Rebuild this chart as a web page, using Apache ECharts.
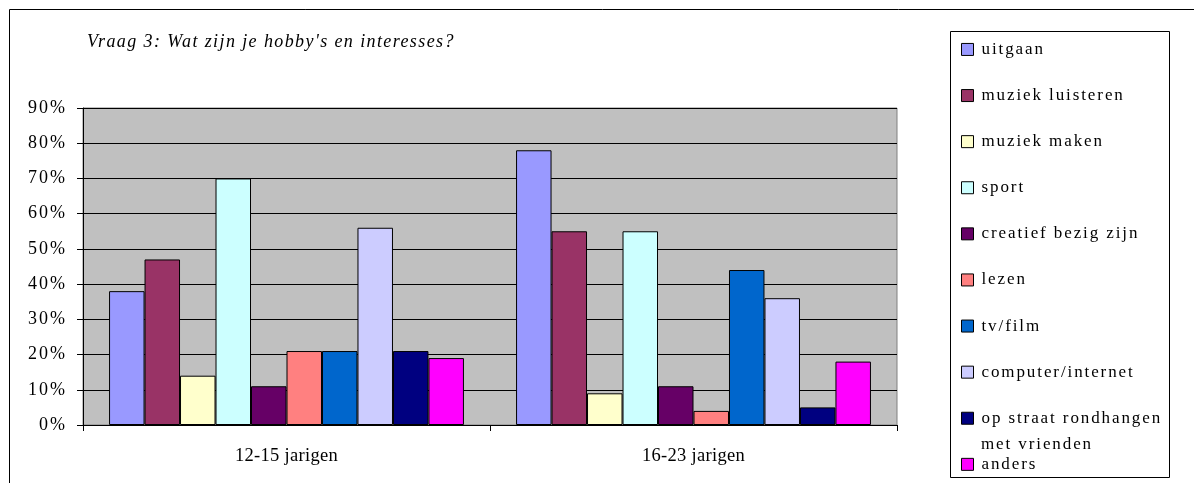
<!DOCTYPE html>
<html>
<head>
<meta charset="utf-8">
<script src="https://cdn.jsdelivr.net/npm/echarts@6/dist/echarts.min.js"></script>
<style>
html,body{margin:0;padding:0;background:#fff;}
#chart{width:1194px;height:483px;}
</style>
</head>
<body>
<div id="chart"></div>
<script>
const titleText = "Vraag 3: Wat zijn je hobby's en interesses?";
const categories = ['12-15 jarigen', '16-23 jarigen'];
const seriesNames = ['uitgaan', 'muziek luisteren', 'muziek maken', 'sport', 'creatief bezig zijn', 'lezen', 'tv/film', 'computer/internet', 'op straat rondhangen met vrienden', 'anders'];
const uitgaan = [38, 78];
const muziekLuisteren = [47, 55];
const muziekMaken = [14, 9];
const sport = [70, 55];
const creatief = [11, 11];
const lezen = [21, 4];
const tvFilm = [21, 44];
const computerInternet = [56, 36];
const opStraat = [21, 5];
const anders = [19, 18];
const yTicks = [0, 10, 20, 30, 40, 50, 60, 70, 80, 90];
const seriesValues = [uitgaan, muziekLuisteren, muziekMaken, sport, creatief, lezen, tvFilm, computerInternet, opStraat, anders];
const colors = ['#9999FF', '#993366', '#FFFFCC', '#CCFFFF', '#660066', '#FF8080', '#0066CC', '#CCCCFF', '#000080', '#FF00FF'];

// letter spacing (the reference text is spaced out) keyed on font size / style
(function () {
  const proto = CanvasRenderingContext2D.prototype;
  if (!('letterSpacing' in proto)) return;
  function spacingFor(font) {
    const m = /([\d.]+)px/.exec(font || '');
    const size = m ? parseFloat(m[1]) : 12;
    if (/italic/.test(font)) return '1.4px';
    if (Math.abs(size - 17) < 0.01) return '1.9px';
    if (Math.abs(size - 18) < 0.01) return '2px';
    if (Math.abs(size - 18.5) < 0.01) return '0.3px';
    return '0px';
  }
  const origFill = proto.fillText, origMeasure = proto.measureText, origStroke = proto.strokeText;
  proto.fillText = function () { this.letterSpacing = spacingFor(this.font); return origFill.apply(this, arguments); };
  proto.strokeText = function () { this.letterSpacing = spacingFor(this.font); return origStroke.apply(this, arguments); };
  proto.measureText = function () { this.letterSpacing = spacingFor(this.font); return origMeasure.apply(this, arguments); };
})();

const serif = "'Liberation Serif', serif";
const chart = echarts.init(document.getElementById('chart'), null, {renderer: 'canvas'});
chart.setOption({
  animation: false,
  color: colors,
  textStyle: {fontFamily: serif, color: '#000'},
  title: {
    text: titleText, left: 87, top: 33, padding: 0,
    textStyle: {fontFamily: serif, fontStyle: 'italic', fontWeight: 'normal', fontSize: 18, lineHeight: 18, color: '#000'}
  },
  graphic: [
    {type: 'rect', shape: {x: 9.5, y: 9.5, width: 1200, height: 500}, style: {fill: 'none', stroke: '#000', lineWidth: 1}, z: -10, silent: true},
    {type: 'rect', shape: {x: 950.5, y: 31.5, width: 219, height: 446}, style: {fill: '#fff', stroke: '#000', lineWidth: 1}, z: -5, silent: true},
    {type: 'text', left: 981, top: 435, style: {text: 'met vrienden', fontFamily: serif, fontSize: 17, fill: '#000'}, silent: true}
  ],
  legend: {
    orient: 'vertical', left: 961, top: 40, height: 445, padding: 0,
    itemWidth: 12, itemHeight: 12, itemGap: 27.2, icon: 'rect',
    itemStyle: {borderColor: '#000', borderWidth: 1},
    textStyle: {fontFamily: serif, fontSize: 17, color: '#000', lineHeight: 18, padding: [0, 0, 0, 3]},
    formatter: function (n) { return n === 'op straat rondhangen met vrienden' ? 'op straat rondhangen' : n; },
    data: seriesNames
  },
  grid: {
    left: 83, top: 108, right: 297, bottom: 58, show: true,
    backgroundColor: '#C0C0C0', borderColor: '#808080', borderWidth: 1, containLabel: false
  },
  xAxis: {
    type: 'category', data: categories,
    axisLine: {show: true, lineStyle: {color: '#000', width: 1}},
    axisTick: {show: true, alignWithLabel: false, length: 6, lineStyle: {color: '#000'}},
    axisLabel: {fontFamily: serif, fontSize: 18.5, color: '#000', margin: 21},
    splitLine: {show: false}
  },
  yAxis: {
    type: 'value', min: 0, max: 90, interval: 10,
    axisLine: {show: true, lineStyle: {color: '#000', width: 1}},
    axisTick: {show: true, length: 6, lineStyle: {color: '#000'}},
    axisLabel: {fontFamily: serif, fontSize: 18, color: '#000', margin: 16,
      formatter: function (v) { return yTicks.indexOf(v) >= 0 ? v + '%' : ''; }},
    splitLine: {show: true, lineStyle: {color: '#000', width: 1}}
  },
  series: seriesNames.map(function (name, i) {
    return {
      name: name, type: 'bar', data: seriesValues[i],
      barGap: '0%', barCategoryGap: '12.8%',
      itemStyle: {color: colors[i], borderColor: '#000', borderWidth: 1}
    };
  })
});
</script>
</body>
</html>
